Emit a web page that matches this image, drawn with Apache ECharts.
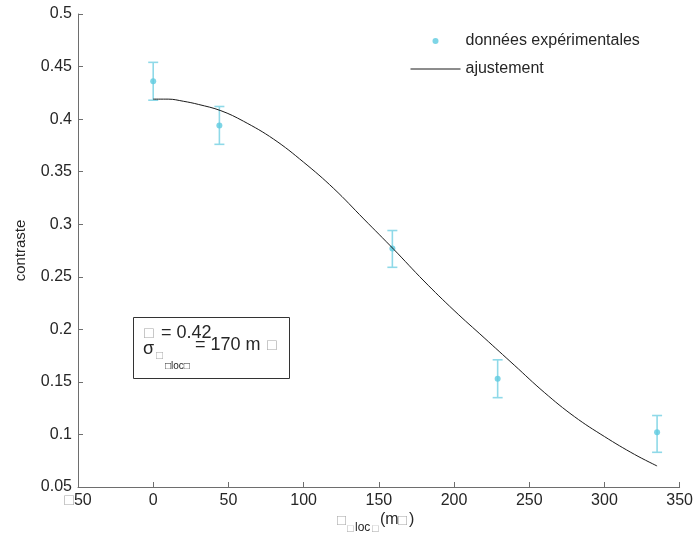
<!DOCTYPE html>
<html>
<head>
<meta charset="utf-8">
<script src="https://cdn.jsdelivr.net/npm/echarts@6/dist/echarts.min.js"></script>
<style>html,body{margin:0;padding:0;background:#fff;}#c{width:696px;height:541px;}</style>
</head>
<body>
<div id="c"></div>
<script>
// Experimental data
const expX = [0, 44, 159, 229, 335];
const expY = [0.436, 0.394, 0.277, 0.153, 0.102];
const errLow = [0.418, 0.376, 0.259, 0.135, 0.083];
const errHigh = [0.454, 0.412, 0.294, 0.171, 0.118];
// Fitted curve
const fitX = [0, 10, 20, 30, 45, 60, 80, 100, 120, 140, 160, 180, 200, 220, 240, 260, 280, 300, 320, 335];
const fitY = [0.419, 0.419, 0.417, 0.414, 0.408, 0.398, 0.381, 0.359, 0.334, 0.305, 0.276, 0.246, 0.218, 0.192, 0.166, 0.140, 0.117, 0.098, 0.081, 0.070];
const seriesNames = ['données expérimentales', 'ajustement'];
const xTicks = {min: -50, max: 350, interval: 50};
const yTicks = {min: 0.05, max: 0.5, interval: 0.05};

const FONT = '"Liberation Sans", Arial, Helvetica, sans-serif';
const TXT = '#262626';
const TOFU = '#a8a8a8';
const CYAN = '#5ecbe0';
const CYAN_BAR = '#8fd9e8';

const chart = echarts.init(document.getElementById('c'), null, {renderer: 'canvas'});

const errData = expX.map((x, i) => [x, errLow[i], errHigh[i]]);
const scatterData = expX.map((x, i) => [x, expY[i]]);
const fitData = fitX.map((x, i) => [x, fitY[i]]);

chart.setOption({
  animation: false,
  backgroundColor: '#fff',
  textStyle: {fontFamily: FONT},
  grid: {left: 78, right: 16, top: 14, bottom: 54, containLabel: false},
  legend: {
    orient: 'vertical',
    left: 405, top: 28,
    itemWidth: 50, itemHeight: 6, itemGap: 12,
    textStyle: {fontFamily: FONT, fontSize: 16, color: TXT},
    data: [
      {name: seriesNames[0], icon: 'circle'},
      {name: seriesNames[1], itemStyle: {opacity: 0}, lineStyle: {opacity: 1, color: '#1a1a1a', width: 1}}
    ]
  },
  xAxis: {
    type: 'value',
    min: xTicks.min, max: xTicks.max, interval: xTicks.interval,
    splitLine: {show: false},
    axisLine: {onZero: false, lineStyle: {color: '#6e6e6e', width: 1}},
    axisTick: {inside: true, length: 5, lineStyle: {color: '#6e6e6e'}},
    axisLabel: {
      fontFamily: FONT, fontSize: 16, color: TXT, margin: 6,
      formatter: v => v < 0 ? '{t|□}' + Math.abs(v) : String(v),
      rich: {t: {color: TOFU, fontSize: 16, fontFamily: FONT}}
    }
  },
  yAxis: {
    type: 'value',
    min: yTicks.min, max: yTicks.max, interval: yTicks.interval,
    splitLine: {show: false},
    axisLine: {onZero: false, lineStyle: {color: '#6e6e6e', width: 1}},
    axisTick: {inside: true, length: 5, lineStyle: {color: '#6e6e6e'}},
    axisLabel: {fontFamily: FONT, fontSize: 16, color: TXT, margin: 6,
      formatter: v => String(Math.round(v * 100) / 100)},
    name: 'contraste',
    nameLocation: 'middle',
    nameRotate: 90,
    nameGap: 50,
    nameTextStyle: {fontFamily: FONT, fontSize: 15, color: TXT}
  },
  series: [
    {
      name: seriesNames[0] + ' err',
      type: 'custom',
      data: errData,
      z: 3,
      renderItem: function (params, api) {
        const x = api.value(0);
        const top = api.coord([x, api.value(2)]);
        const bot = api.coord([x, api.value(1)]);
        const w = 5;
        const st = {stroke: CYAN_BAR, lineWidth: 1.6};
        return {type: 'group', children: [
          {type: 'line', shape: {x1: top[0], y1: top[1], x2: bot[0], y2: bot[1]}, style: st},
          {type: 'line', shape: {x1: top[0] - w, y1: top[1], x2: top[0] + w, y2: top[1]}, style: st},
          {type: 'line', shape: {x1: bot[0] - w, y1: bot[1], x2: bot[0] + w, y2: bot[1]}, style: st}
        ]};
      }
    },
    {
      name: seriesNames[0],
      type: 'scatter',
      data: scatterData,
      symbol: 'circle',
      symbolSize: 6,
      itemStyle: {color: CYAN},
      z: 4
    },
    {
      name: seriesNames[1],
      type: 'line',
      data: fitData,
      smooth: 0.4,
      symbol: 'none',
      lineStyle: {color: '#1a1a1a', width: 1},
      itemStyle: {color: '#1a1a1a'},
      z: 5
    }
  ],
  graphic: [
    {type: 'rect', left: 133, top: 317, shape: {width: 156, height: 61},
     style: {fill: '#fff', stroke: '#333', lineWidth: 1}, z: 10},
    {type: 'text', left: 144, top: 326, z: 11, style: {text: '□', fill: TOFU, font: '16px ' + FONT}},
    {type: 'text', left: 161, top: 324, z: 11, style: {text: '= 0.42', fill: TXT, font: '18px ' + FONT}},
    {type: 'text', left: 143, top: 340, z: 11, style: {text: 'σ', fill: TXT, font: '18px ' + FONT}},
    {type: 'text', left: 156, top: 350, z: 11, style: {text: '□', fill: TOFU, font: '12px ' + FONT}},
    {type: 'text', left: 165, top: 361, z: 11, style: {text: '□loc□', fill: TXT, font: '10px ' + FONT}},
    {type: 'text', left: 195, top: 336, z: 11, style: {text: '= 170 m', fill: TXT, font: '18px ' + FONT}},
    {type: 'text', left: 267, top: 338, z: 11, style: {text: '□', fill: TOFU, font: '16px ' + FONT}},
    // x-axis title
    {type: 'text', left: 337, top: 513, style: {text: '□', fill: TOFU, font: '15px ' + FONT}},
    {type: 'text', left: 347, top: 523, style: {text: '□', fill: TOFU, font: '11px ' + FONT}},
    {type: 'text', left: 355, top: 522, style: {text: 'loc', fill: TXT, font: '12px ' + FONT}},
    {type: 'text', left: 372, top: 523, style: {text: '□', fill: TOFU, font: '11px ' + FONT}},
    {type: 'text', left: 380, top: 512, style: {text: '(m', fill: TXT, font: '16px ' + FONT}},
    {type: 'text', left: 398, top: 513, style: {text: '□', fill: TOFU, font: '15px ' + FONT}},
    {type: 'text', left: 409, top: 512, style: {text: ')', fill: TXT, font: '16px ' + FONT}}
  ]
});
</script>
</body>
</html>
